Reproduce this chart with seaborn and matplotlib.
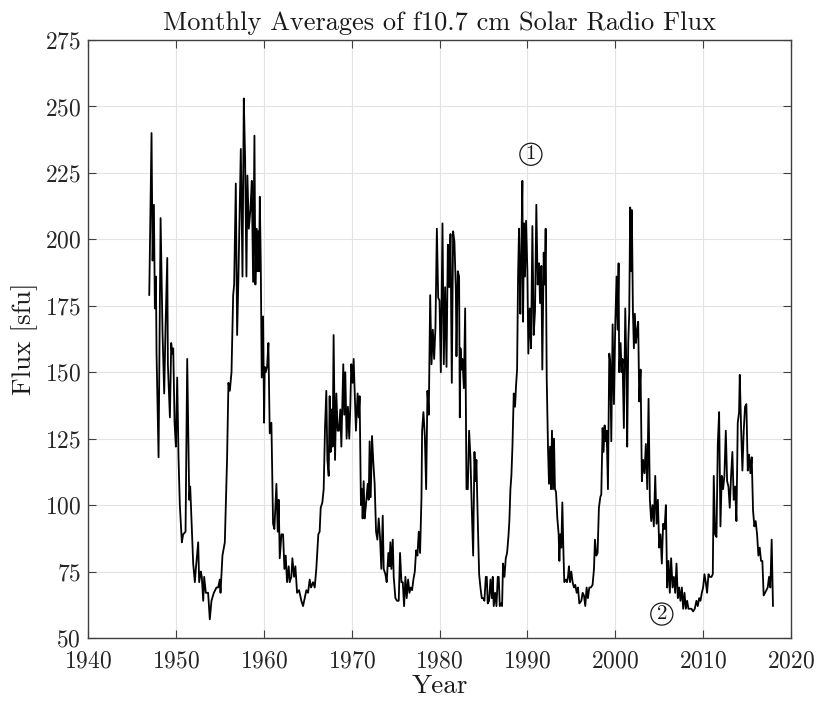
import matplotlib
matplotlib.use("Agg")
import matplotlib.pyplot as plt
import seaborn as sns
import pandas as pd

year = [
    1946.97, 1947.23, 1947.35, 1947.50, 1947.61, 1947.73, 1947.80, 1948.03, 1948.26, 1948.48,
    1948.67, 1948.83, 1949.02, 1949.09, 1949.32, 1949.47, 1949.58, 1949.70, 1949.85, 1950.00,
    1950.15, 1950.30, 1950.45, 1950.68, 1950.83, 1951.10, 1951.29, 1951.52, 1951.63, 1951.78,
    1951.97, 1952.16, 1952.27, 1952.54, 1952.65, 1952.84, 1952.95, 1953.11, 1953.22, 1953.41,
    1953.67, 1953.86, 1954.05, 1954.32, 1954.62, 1954.81, 1955.00, 1955.08, 1955.30, 1955.57,
    1955.83, 1955.98, 1956.14, 1956.33, 1956.52, 1956.63, 1956.82, 1956.97, 1957.12,
    1957.39, 1957.58, 1957.73, 1957.88, 1958.03, 1958.14, 1958.30, 1958.48, 1958.64, 1958.79,
    1958.94, 1959.05, 1959.17, 1959.28, 1959.39, 1959.47, 1959.55, 1959.66, 1959.77, 1959.92,
    1960.04, 1960.11, 1960.23, 1960.38, 1960.53, 1960.68, 1960.87, 1961.06, 1961.21, 1961.44,
    1961.59, 1961.70, 1961.82, 1962.01, 1962.20, 1962.35, 1962.50, 1962.65, 1962.84, 1962.95,
    1963.14, 1963.26, 1963.45, 1963.60, 1963.79, 1964.02, 1964.28, 1964.47, 1964.66, 1964.85,
    1965.04, 1965.23, 1965.38, 1965.61, 1965.80, 1965.98, 1966.21, 1966.36, 1966.48, 1966.67,
    1966.82, 1966.97, 1967.12, 1967.24, 1967.39, 1967.50, 1967.61, 1967.73, 1967.84, 1967.95,
    1968.11, 1968.26, 1968.41, 1968.56, 1968.71, 1968.83,
    1969.05, 1969.16, 1969.28, 1969.43, 1969.58, 1969.73, 1969.85, 1969.96, 1970.11, 1970.23,
    1970.34, 1970.49, 1970.68, 1970.80, 1970.91, 1971.06, 1971.18, 1971.25, 1971.37, 1971.48,
    1971.63, 1971.83, 1971.94, 1972.05, 1972.17, 1972.32, 1972.47, 1972.62, 1972.78, 1972.93,
    1973.08, 1973.23, 1973.38, 1973.54, 1973.65, 1973.84, 1973.99, 1974.18, 1974.30, 1974.41,
    1974.52, 1974.68, 1974.79, 1974.98, 1975.17, 1975.36, 1975.51, 1975.67, 1975.82, 1975.97,
    1976.12, 1976.27, 1976.43, 1976.58, 1976.73, 1976.88, 1977.03, 1977.19, 1977.34, 1977.49,
    1977.64, 1977.79, 1977.95, 1978.02, 1978.17, 1978.33, 1978.48, 1978.63, 1978.78, 1978.94,
    1979.09, 1979.24, 1979.39, 1979.54, 1979.70, 1979.85, 1980.00,
    1980.15, 1980.34, 1980.49, 1980.64, 1980.80, 1980.95, 1981.10, 1981.25, 1981.40, 1981.55,
    1981.70, 1981.86, 1981.93, 1982.08, 1982.23, 1982.31, 1982.39, 1982.50, 1982.61, 1982.77,
    1982.92, 1983.07, 1983.22, 1983.37, 1983.52, 1983.67, 1983.83, 1983.98, 1984.09, 1984.20,
    1984.32, 1984.51, 1984.66, 1984.81, 1984.96, 1985.11, 1985.27, 1985.38, 1985.49, 1985.64,
    1985.80, 1985.95, 1986.06, 1986.17, 1986.33, 1986.48, 1986.63, 1986.74, 1986.86, 1987.01,
    1987.12, 1987.23, 1987.39, 1987.54, 1987.69, 1987.84, 1987.95, 1988.07, 1988.18, 1988.30,
    1988.45, 1988.60, 1988.71, 1988.83, 1988.94, 1989.05, 1989.20, 1989.28, 1989.43, 1989.51,
    1989.62, 1989.73, 1989.85, 1990.00, 1990.11, 1990.27, 1990.42, 1990.57, 1990.72, 1990.87,
    1991.02, 1991.17, 1991.33, 1991.44, 1991.59,
    1991.70, 1991.86, 1991.97, 1992.08, 1992.20, 1992.35, 1992.46, 1992.58, 1992.69, 1992.80,
    1992.92, 1993.03, 1993.14, 1993.26, 1993.41, 1993.56, 1993.64, 1993.75, 1993.86, 1993.98,
    1994.09, 1994.20, 1994.39, 1994.51, 1994.62, 1994.73, 1994.85, 1995.00, 1995.15, 1995.30,
    1995.45, 1995.61, 1995.76, 1995.91, 1996.14, 1996.29, 1996.44, 1996.59, 1996.74, 1996.89,
    1997.05, 1997.23, 1997.42, 1997.58, 1997.69, 1997.84, 1997.99, 1998.14, 1998.30, 1998.41,
    1998.56, 1998.67, 1998.79, 1998.90, 1999.02, 1999.17, 1999.32, 1999.43, 1999.55, 1999.70,
    1999.85, 2000.00, 2000.15, 2000.27, 2000.38, 2000.45, 2000.61, 2000.72, 2000.83, 2000.98,
    2001.14, 2001.29, 2001.36, 2001.48, 2001.59, 2001.70, 2001.82, 2001.89, 2002.01, 2002.12,
    2002.23, 2002.35, 2002.50, 2002.61, 2002.73, 2002.88,
    2003.03, 2003.18, 2003.33, 2003.48, 2003.64, 2003.79, 2003.94, 2004.09, 2004.24, 2004.39,
    2004.55, 2004.70, 2004.85, 2005.00, 2005.15, 2005.30, 2005.45, 2005.61, 2005.76, 2005.91,
    2006.06, 2006.21, 2006.36, 2006.52, 2006.67, 2006.82, 2006.97, 2007.12, 2007.27, 2007.42,
    2007.58, 2007.73, 2007.88, 2008.03, 2008.18, 2008.33, 2008.48, 2008.67, 2008.86, 2009.05,
    2009.24, 2009.39, 2009.55, 2009.70, 2009.85, 2010.00, 2010.15, 2010.30, 2010.45, 2010.61,
    2010.76, 2010.95, 2011.10, 2011.21, 2011.36, 2011.52, 2011.67, 2011.82, 2011.97, 2012.12,
    2012.27, 2012.42, 2012.58, 2012.73, 2012.88, 2013.03, 2013.18, 2013.33, 2013.48, 2013.64,
    2013.79, 2013.94, 2014.09, 2014.17, 2014.32, 2014.47, 2014.62, 2014.77, 2014.92, 2015.08,
    2015.23, 2015.38, 2015.53, 2015.68, 2015.83, 2015.98, 2016.14, 2016.29, 2016.44, 2016.59,
    2016.74, 2016.89, 2017.05, 2017.20, 2017.35, 2017.50, 2017.65, 2017.80, 2017.95,
]

flux = [
    179, 240, 192, 213, 174, 186, 157, 118, 208, 165,
    142, 168, 193, 153, 133, 161, 157, 159, 131, 122,
    148, 118, 100, 86, 89, 90, 155, 102, 107, 94,
    78, 71, 76, 86, 71, 75, 73, 64, 73, 67,
    67, 57, 64, 67, 69, 69, 72, 67, 81, 86,
    118, 146, 143, 150, 179, 183, 221, 164, 186,
    234, 186, 253, 230, 186, 224, 204, 211, 222, 184,
    239, 183, 204, 188, 203, 188, 216, 191, 148, 171,
    131, 152, 150, 152, 161, 127, 131, 93, 91, 108,
    90, 102, 80, 89, 89, 76, 81, 71, 77, 71,
    73, 80, 73, 77, 67, 68, 64, 62, 65, 68,
    67, 72, 69, 71, 69, 76, 89, 90, 99, 101,
    106, 129, 143, 117, 111, 141, 120, 136, 122, 164,
    117, 142, 128, 128, 136, 122,
    153, 134, 150, 125, 137, 125, 137, 153, 146, 155,
    143, 128, 142, 133, 141, 100, 106, 95, 109, 95,
    100, 108, 102, 124, 103, 126, 116, 108, 90, 87,
    95, 88, 76, 96, 76, 74, 71, 82, 77, 86,
    76, 87, 73, 65, 64, 64, 82, 71, 71, 62,
    73, 65, 72, 67, 69, 68, 72, 75, 83, 81,
    90, 82, 103, 128, 135, 126, 106, 143, 134, 179,
    153, 166, 155, 167, 204, 178, 177,
    150, 206, 153, 182, 152, 198, 182, 202, 146, 203,
    199, 181, 156, 188, 186, 133, 159, 151, 155, 144,
    174, 106, 106, 128, 118, 99, 81, 120, 109, 117,
    99, 74, 69, 65, 65, 64, 73, 73, 63, 64,
    72, 65, 73, 62, 67, 62, 73, 73, 62, 63,
    62, 78, 73, 80, 82, 88, 94, 106, 111, 122,
    142, 137, 145, 151, 186, 204, 172, 188, 222, 169,
    206, 186, 207, 188, 157, 174, 159, 205, 164, 173,
    213, 183, 191, 176, 190,
    151, 195, 183, 204, 148, 121, 108, 122, 106, 128,
    106, 125, 106, 105, 95, 89, 79, 89, 84, 101,
    84, 71, 72, 71, 73, 77, 71, 75, 71, 69,
    70, 67, 69, 63, 64, 67, 66, 62, 69, 65,
    69, 69, 70, 76, 87, 81, 82, 99, 103, 104,
    129, 120, 130, 124, 128, 106, 157, 154, 124, 168,
    138, 168, 186, 166, 191, 150, 161, 150, 155, 129,
    174, 148, 122, 161, 172, 212, 188, 211, 173, 159,
    172, 161, 166, 169, 139, 151,
    109, 117, 112, 123, 106, 140, 102, 94, 100, 92,
    111, 93, 102, 84, 89, 78, 93, 91, 100, 69,
    79, 67, 80, 69, 73, 67, 78, 65, 69, 64,
    69, 61, 67, 61, 64, 61, 61, 61, 60, 61,
    64, 62, 65, 64, 67, 69, 74, 71, 67, 74,
    73, 73, 74, 111, 89, 88, 123, 135, 92, 111,
    106, 111, 128, 109, 107, 99, 111, 120, 102, 107,
    94, 131, 135, 149, 129, 113, 128, 137, 138, 113,
    119, 112, 118, 98, 92, 94, 89, 81, 84, 79,
    79, 66, 67, 68, 69, 73, 69, 87, 62,
]

annotation_labels = ["1", "2"]
annotation_year = [1990.4, 2005.3]
annotation_flux = [232.0, 59.0]

sns.set_theme(style="ticks")
plt.rcParams["font.family"] = ["cmr10", "DejaVu Sans"]
plt.rcParams["mathtext.fontset"] = "cm"
plt.rcParams["axes.formatter.use_mathtext"] = True
plt.rcParams["axes.unicode_minus"] = False

df = pd.DataFrame({"Year": year, "Flux": flux})

fig = plt.figure(figsize=(8.17, 7.02), dpi=100)
ax = fig.add_axes([88 / 817, 1 - 638 / 702, (791 - 88) / 817, (638 - 40) / 702])

sns.lineplot(data=df, x="Year", y="Flux", ax=ax, color="black", linewidth=1.3,
             estimator=None, sort=False, zorder=3)

ax.set_xlim(1940, 2020)
ax.set_ylim(50, 275)
ax.set_xticks(range(1940, 2021, 10))
ax.set_yticks(range(50, 276, 25))
ax.grid(True, color="#e3e3e3", linewidth=0.8, zorder=0)
ax.set_axisbelow(True)
for s in ax.spines.values():
    s.set_color("#404040")
    s.set_linewidth(1.0)
    s.set_visible(True)
ax.tick_params(direction="in", length=6, width=0.8, color="#404040",
               top=True, right=True, labelsize=17, labelcolor="#262626")
ax.tick_params(axis="x", pad=9)
ax.tick_params(axis="y", pad=5)

ax.set_title("Monthly Averages of f10.7 cm Solar Radio Flux", fontsize=19, pad=7,
             color="#1a1a1a")
ax.set_xlabel("Year", fontsize=19.5, labelpad=1, color="#1a1a1a")
ax.set_ylabel("Flux [sfu]", fontsize=19.5, labelpad=5, color="#1a1a1a")

for t, xv, yv in zip(annotation_labels, annotation_year, annotation_flux):
    ax.text(xv, yv, t, fontsize=15, ha="center", va="center", color="#1a1a1a", zorder=4,
            bbox=dict(boxstyle="circle,pad=0.1", fc="none", ec="#1a1a1a", lw=0.9))

fig.savefig("out.png", dpi=100)
